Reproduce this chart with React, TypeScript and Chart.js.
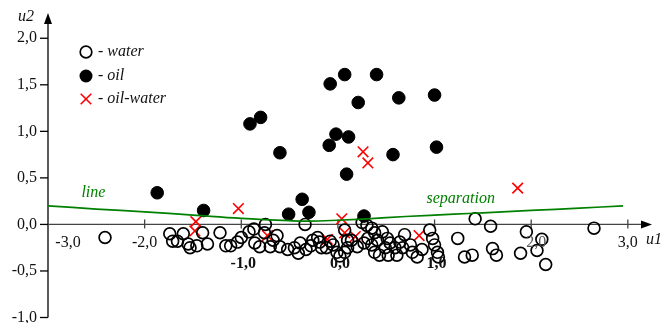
import React, { useEffect, useRef } from 'react';
import { Chart, registerables } from 'chart.js';

Chart.register(...registerables);

// ---- data (u1, u2) ----
const waterU1 = [
  -2.41, -1.74, -1.71, -1.66, -1.60, -1.55, -1.53, -1.46, -1.40, -1.35,
  -1.22, -1.16, -1.11, -1.04, -1.00, -0.92, -0.87, -0.86, -0.81, -0.75,
  -0.76, -0.70, -0.67, -0.63, -0.60, -0.52, -0.45, -0.39, -0.34, -0.33,
  -0.28, -0.26, -0.21, -0.19, -0.17, -0.05, -0.01, 0.02, 0.07, 0.10,
  0.07, 0.10, 0.20, 0.25, 0.30, 0.35, 0.38, 0.41, 0.35, 0.38,
  0.43, 0.49, 0.51, 0.31, 0.46, 0.54, 0.52, 0.61, 0.59, 0.64,
  0.69, 0.67, 0.75, 0.77, 0.82, 0.87, 0.95, 0.98, 1.00, 1.03,
  1.04, 1.24, 1.42, 1.31, 1.39, 1.58, 1.60, 1.64, 1.89, 1.95,
  2.06, 2.11, 2.15, 2.65, -0.12, -0.08, 0.14, 0.27, -0.41,
];
const waterU2 = [
  -0.14, -0.10, -0.18, -0.18, -0.10, -0.21, -0.25, -0.23, -0.09, -0.21,
  -0.09, -0.23, -0.23, -0.19, -0.14, -0.08, -0.05, -0.20, -0.24, 0.00,
  -0.09, -0.24, -0.17, -0.12, -0.24, -0.27, -0.25, -0.20, 0.00, -0.27,
  -0.23, -0.17, -0.14, -0.19, -0.25, -0.22, -0.30, -0.34, -0.30, -0.25,
  -0.06, -0.17, -0.24, 0.02, -0.01, -0.04, -0.09, -0.17, -0.22, -0.30,
  -0.33, -0.25, -0.15, -0.15, -0.08, -0.20, -0.33, -0.33, -0.25, -0.19,
  -0.11, -0.25, -0.22, -0.30, -0.35, -0.27, -0.06, -0.15, -0.22, -0.30,
  -0.35, -0.15, 0.06, -0.35, -0.33, -0.02, -0.26, -0.33, -0.31, -0.08,
  -0.28, -0.16, -0.43, -0.04, -0.25, -0.18, -0.17, -0.20, -0.31,
];

const oilU1 = [
  -1.87, -1.39, -0.91, -0.80, -0.60, -0.51, -0.37, -0.30, -0.08, 0.07,
  0.40, 0.21, 0.63, 1.00, -0.02, 0.11, -0.09, 0.57, 1.02, 0.09, 0.27,
];
const oilU2 = [
  0.34, 0.15, 1.08, 1.15, 0.77, 0.11, 0.27, 0.13, 1.51, 1.61,
  1.61, 1.31, 1.36, 1.39, 0.97, 0.94, 0.85, 0.75, 0.83, 0.54, 0.09,
];

const oilWaterU1 = [-1.47, -1.48, -1.03, -0.73, -0.11, 0.04, 0.07, 0.18, 0.84, 0.26, 0.31, 1.86];
const oilWaterU2 = [0.03, -0.07, 0.17, -0.12, -0.16, 0.06, -0.09, -0.13, -0.12, 0.78, 0.66, 0.39];

const lineU1 = [-3.0, -2.5, -2.0, -1.5, -1.0, -0.5, -0.3, 0.0, 0.3, 0.7, 1.2, 1.5, 2.0, 2.5, 2.95];
const lineU2 = [0.20, 0.165, 0.135, 0.10, 0.065, 0.04, 0.035, 0.045, 0.06, 0.085, 0.11, 0.125, 0.15, 0.175, 0.20];

const seriesNames = ['water', 'oil', 'oil-water'];
const lineLabels = ['line', 'separation'];

const xTickValues = [-3, -2, -1, 0, 1, 2, 3];
const xTickLabels = ['-3,0', '-2,0', '-1,0', '0,0', '1,0', '2,0', '3,0'];
const yTickValues = [2, 1.5, 1, 0.5, 0, -0.5, -1];
const yTickLabels = ['2,0', '1,5', '1,0', '0,5', '0,0', '-0,5', '-1,0'];
const xAxisTitle = 'u1';
const yAxisTitle = 'u2';

const X_MIN = -3;
const X_MAX = 3.25;
const Y_MIN = -1;
const Y_MAX = 2.25;

const zip = (a: number[], b: number[]) => a.map((x, i) => ({ x, y: b[i] }));

const SERIF = '"Liberation Serif", "Times New Roman", serif';

const axesPlugin = {
  id: 'customAxes',
  beforeDatasetsDraw(chart: any) {
    const ctx: CanvasRenderingContext2D = chart.ctx;
    const xs = chart.scales.x;
    const ys = chart.scales.y;
    const xAxisPx = xs.getPixelForValue(X_MIN);
    const y0 = ys.getPixelForValue(0);
    const yBottom = ys.getPixelForValue(Y_MIN);
    const yTop = ys.top - 2;
    const xRight = xs.right;
    ctx.save();

    // y axis
    ctx.strokeStyle = '#000';
    ctx.lineWidth = 1.3;
    ctx.beginPath();
    ctx.moveTo(xAxisPx, yBottom);
    ctx.lineTo(xAxisPx, yTop + 8);
    ctx.stroke();
    ctx.fillStyle = '#000';
    ctx.beginPath();
    ctx.moveTo(xAxisPx, yTop);
    ctx.lineTo(xAxisPx - 4, yTop + 11);
    ctx.lineTo(xAxisPx + 4, yTop + 11);
    ctx.closePath();
    ctx.fill();

    // y ticks + labels
    ctx.font = `16px ${SERIF}`;
    ctx.textAlign = 'right';
    ctx.textBaseline = 'middle';
    yTickValues.forEach((v, i) => {
      const py = ys.getPixelForValue(v);
      ctx.beginPath();
      ctx.moveTo(xAxisPx - 8, py);
      ctx.lineTo(xAxisPx, py);
      ctx.stroke();
      ctx.fillStyle = '#111';
      ctx.fillText(yTickLabels[i], xAxisPx - 11, py);
    });

    // x axis
    ctx.strokeStyle = '#444';
    ctx.lineWidth = 1.3;
    ctx.beginPath();
    ctx.moveTo(xAxisPx, y0);
    ctx.lineTo(xRight - 8, y0);
    ctx.stroke();
    ctx.fillStyle = '#000';
    ctx.beginPath();
    ctx.moveTo(xRight, y0);
    ctx.lineTo(xRight - 11, y0 - 4);
    ctx.lineTo(xRight - 11, y0 + 4);
    ctx.closePath();
    ctx.fill();

    // x ticks
    xTickValues.forEach((v) => {
      if (v === X_MIN) return;
      const px = xs.getPixelForValue(v);
      ctx.beginPath();
      ctx.moveTo(px, y0 - 5);
      ctx.lineTo(px, y0 + 4);
      ctx.stroke();
    });
    ctx.restore();
  },
  afterDatasetsDraw(chart: any) {
    const ctx: CanvasRenderingContext2D = chart.ctx;
    const xs = chart.scales.x;
    const ys = chart.scales.y;
    const y0 = ys.getPixelForValue(0);
    ctx.save();
    ctx.textBaseline = 'middle';
    ctx.textAlign = 'center';

    // x tick labels
    xTickValues.forEach((v, i) => {
      let px = xs.getPixelForValue(v);
      const lowered = v === -1 || v === 0 || v === 1;
      if (v === X_MIN) px += 20;
      if (v === 2) px += 5;
      if (lowered) {
        ctx.font = `bold 16px ${SERIF}`;
        ctx.fillStyle = '#111';
        ctx.fillText(xTickLabels[i], px + 2, y0 + 39);
      } else {
        ctx.font = `16px ${SERIF}`;
        ctx.fillStyle = v === 2 ? '#555' : '#111';
        ctx.fillText(xTickLabels[i], px, y0 + 18);
      }
    });

    // axis titles
    ctx.font = `italic 16px ${SERIF}`;
    ctx.fillStyle = '#111';
    ctx.textAlign = 'left';
    ctx.fillText(xAxisTitle, 646, y0 + 15);
    ctx.textAlign = 'center';
    ctx.fillText(yAxisTitle, 26, 17);

    // line labels
    ctx.fillStyle = 'green';
    ctx.fillText(lineLabels[0], xs.getPixelForValue(-2.53), ys.getPixelForValue(0.34));
    ctx.fillText(lineLabels[1], xs.getPixelForValue(1.27), ys.getPixelForValue(0.28));

    // legend
    const lx = 86;
    const rows = [52, 76, 99];
    ctx.textAlign = 'left';
    rows.forEach((ry, i) => {
      ctx.lineWidth = 1.7;
      if (i === 0) {
        ctx.strokeStyle = '#000';
        ctx.beginPath();
        ctx.arc(lx, ry, 5.8, 0, Math.PI * 2);
        ctx.stroke();
      } else if (i === 1) {
        ctx.fillStyle = '#000';
        ctx.beginPath();
        ctx.arc(lx, ry, 6.5, 0, Math.PI * 2);
        ctx.fill();
      } else {
        ctx.strokeStyle = '#ff0000';
        ctx.lineWidth = 1.6;
        const d = 5.3;
        ctx.beginPath();
        ctx.moveTo(lx - d, ry - d);
        ctx.lineTo(lx + d, ry + d);
        ctx.moveTo(lx - d, ry + d);
        ctx.lineTo(lx + d, ry - d);
        ctx.stroke();
      }
      ctx.fillStyle = '#111';
      ctx.font = `italic 16px ${SERIF}`;
      ctx.fillText('- ' + seriesNames[i], lx + 12, ry);
    });
    ctx.restore();
  },
};

export default function App() {
  const canvasRef = useRef<HTMLCanvasElement | null>(null);

  useEffect(() => {
    if (!canvasRef.current) return;
    const chart = new Chart(canvasRef.current, {
      type: 'scatter',
      data: {
        datasets: [
          {
            label: 'separation line',
            data: zip(lineU1, lineU2),
            showLine: true,
            borderColor: 'green',
            borderWidth: 1.7,
            pointRadius: 0,
            tension: 0.4,
            fill: false,
            clip: false,
          } as any,
          {
            label: seriesNames[0],
            data: zip(waterU1, waterU2),
            pointStyle: 'circle',
            pointRadius: 5.9,
            borderWidth: 1.7,
            borderColor: '#000',
            backgroundColor: 'rgba(0,0,0,0)',
            clip: false,
          } as any,
          {
            label: seriesNames[1],
            data: zip(oilU1, oilU2),
            pointStyle: 'circle',
            pointRadius: 6.3,
            borderWidth: 1,
            borderColor: '#000',
            backgroundColor: '#000',
            clip: false,
          } as any,
          {
            label: seriesNames[2],
            data: zip(oilWaterU1, oilWaterU2),
            pointStyle: 'crossRot',
            pointRadius: 7.5,
            borderWidth: 1.6,
            borderColor: '#ff0000',
            backgroundColor: '#ff0000',
            clip: false,
          } as any,
        ],
      },
      options: {
        responsive: false,
        animation: false,
        events: [],
        layout: { autoPadding: false, padding: { left: 48, right: 13, top: 15, bottom: 5.5 } },
        plugins: { legend: { display: false }, tooltip: { enabled: false } },
        scales: {
          x: { type: 'linear', min: X_MIN, max: X_MAX, display: false },
          y: { type: 'linear', min: Y_MIN, max: Y_MAX, display: false },
        },
      },
      plugins: [axesPlugin],
    });
    return () => chart.destroy();
  }, []);

  return (
    <div style={{ position: 'fixed', left: 0, top: 0, width: 665, height: 323, background: '#fff' }}>
      <canvas ref={canvasRef} width={665} height={323} style={{ display: 'block' }} />
    </div>
  );
}
